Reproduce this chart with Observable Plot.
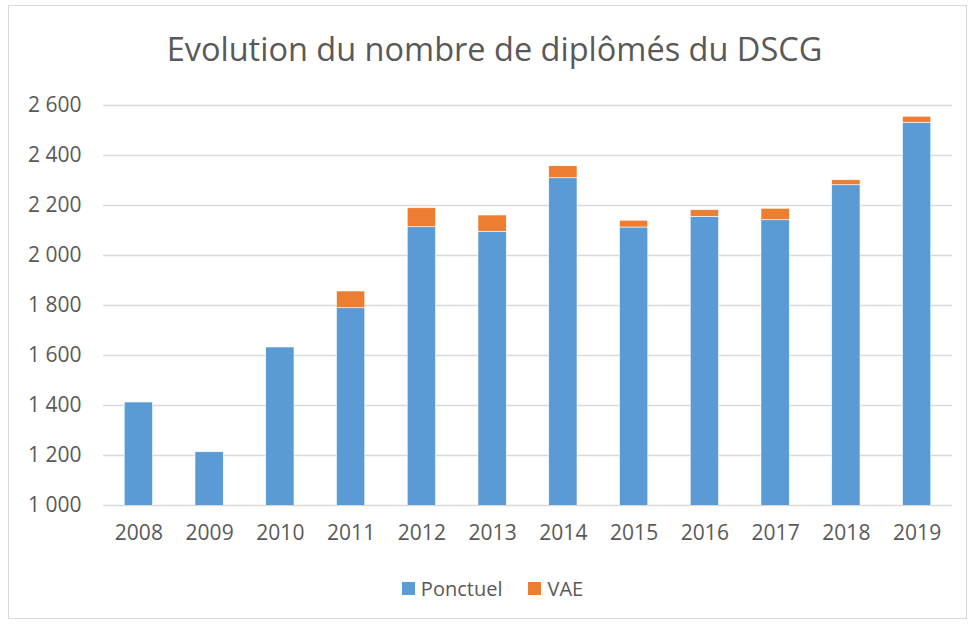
<!DOCTYPE html>
<html>
<head>
<meta charset="utf-8">
<script src="https://cdn.jsdelivr.net/npm/d3@7"></script>
<script src="https://cdn.jsdelivr.net/npm/@observablehq/plot@0.6"></script>
<style>
  html, body { margin: 0; padding: 0; background: #fff; }
  #frame { position: absolute; left: 8px; top: 5px; width: 959px; height: 614px; border: 1px solid #d9d9d9; box-sizing: border-box; pointer-events: none; z-index: 5; }
  #wrap { position: absolute; left: 0; top: 0; width: 971px; font-family: "Open Sans", sans-serif; color: #595959; }
  #title { height: 80px; line-height: 98px; text-align: center; font-size: 32.5px; color: #595959; padding-left: 18px; box-sizing: border-box; }
  #legend { display: flex; justify-content: center; align-items: center; gap: 26px; height: 56px; font-size: 20px; color: #595959; padding-left: 14px; }
  .sw { display: inline-block; width: 13px; height: 13px; margin-right: 6px; vertical-align: middle; }
  .item { display: flex; align-items: center; }
</style>
</head>
<body>
<div id="wrap">
  <div id="title">Evolution du nombre de diplômés du DSCG</div>
  <div id="chart"></div>
  <div id="legend"></div>
</div>
<div id="frame"></div>
<script>
const years = ["2008","2009","2010","2011","2012","2013","2014","2015","2016","2017","2018","2019"];
const ponctuel = [1412, 1213, 1632, 1789, 2113, 2095, 2309, 2112, 2155, 2141, 2281, 2531];
const vae = [0, 0, 0, 67, 76, 65, 48, 27, 26, 46, 20, 24];
const seriesNames = ["Ponctuel", "VAE"];
const seriesColors = ["#5b9bd5", "#ed7d31"];
const yTicks = [1000, 1200, 1400, 1600, 1800, 2000, 2200, 2400, 2600];

const data = [];
years.forEach((y, i) => {
  data.push({year: y, series: "Ponctuel", value: ponctuel[i]});
  data.push({year: y, series: "VAE", value: vae[i]});
});

const fmt = d3.formatLocale({thousands: " ", grouping: [3], decimal: ",", currency: ["", ""]}).format(",");

const chart = Plot.plot({
  width: 971,
  height: 480,
  marginTop: 25,
  marginBottom: 55,
  marginLeft: 103,
  marginRight: 19,
  style: {fontFamily: "Open Sans, sans-serif", fontSize: "21px", color: "#595959", background: "transparent"},
  x: {domain: years, paddingInner: 0.6, paddingOuter: 0.3, round: false, label: null, tickSize: 0, tickPadding: 20},
  y: {domain: [1000, 2600], ticks: yTicks, tickFormat: fmt, label: null, tickSize: 0, tickPadding: 22},
  color: {domain: seriesNames, range: seriesColors},
  marks: [
    Plot.gridY(yTicks, {stroke: "#d9d9d9", strokeOpacity: 1, strokeWidth: 1.5}),
    Plot.barY(data, Plot.stackY({x: "year", y: "value", fill: "series", order: null, clip: true, stroke: "white", strokeWidth: 0.6}))
  ]
});
document.getElementById("chart").appendChild(chart);

const legend = document.getElementById("legend");
seriesNames.forEach((name, i) => {
  const item = document.createElement("span");
  item.className = "item";
  const sw = document.createElement("span");
  sw.className = "sw";
  sw.style.background = seriesColors[i];
  item.appendChild(sw);
  item.appendChild(document.createTextNode(name));
  legend.appendChild(item);
});
</script>
</body>
</html>
